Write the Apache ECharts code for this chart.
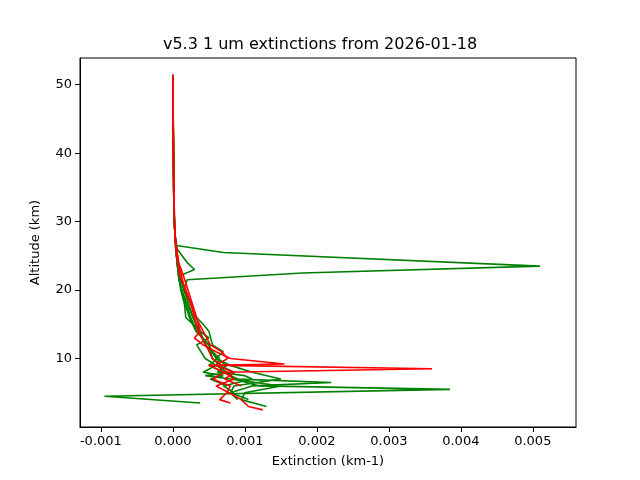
<!DOCTYPE html>
<html><head><meta charset="utf-8">
<script src="https://cdn.jsdelivr.net/npm/echarts@6/dist/echarts.min.js"></script>
<style>body{margin:0}#c{width:640px;height:480px}</style></head>
<body><div id="c"></div>
<script>
// altitude (km) and extinction in units of 1e-3 km-1
var altG1 = [51.5,45,40,35,30,28,26.5,25.5,23.5,22.5,21.5,20,18,16,14,12,11,10,9,8,7,6,5.5,4.5,3.5];
var extG1 = [0,0.005,0.01,0.01,0.02,0.03,0.05,0.7,5.1,1.8,0.2,0.15,0.22,0.28,0.36,0.45,0.55,0.65,0.6,0.75,0.85,1.2,3.85,-0.95,0.38];
var altG2 = [51,45,40,35,30,28,26,24,23,22,20,18,16,14,12,10,9,8,7.5,7,6,5,4,3];
var extG2 = [0,0.004,0.008,0.01,0.02,0.03,0.06,0.2,0.3,0.08,0.12,0.18,0.25,0.33,0.5,0.55,0.65,0.85,0.45,0.8,1.5,1.0,0.95,1.3];
var altG3 = [50,44,38,32,28,26,24,22,20,18,16,14,12,10,9,8,7,6.5,6,5,4];
var extG3 = [0,0.005,0.008,0.015,0.03,0.04,0.06,0.08,0.11,0.16,0.18,0.38,0.45,0.62,0.5,0.7,0.9,2.2,1.1,0.8,0.9];
var altG4 = [50,42,34,28,25,22,20,18,16,14,12,10,9,8,7,6,5,4];
var extG4 = [0,0.005,0.015,0.03,0.05,0.08,0.12,0.17,0.23,0.32,0.5,0.6,0.8,1.1,1.5,0.85,0.8,1.05];
var altG5 = [49,40,32,28,24,22,20,18,16,14,13,12,10,9,8,7.5,7,6];
var extG5 = [0,0.01,0.015,0.03,0.06,0.08,0.12,0.2,0.28,0.38,0.5,0.33,0.45,0.6,0.42,0.7,0.52,0.75];
var altG6 = [48,40,30,26,23,20,18,16,15,14,12,11,10,9,8,7.5,7,6,5];
var extG6 = [0,0.008,0.02,0.04,0.07,0.15,0.25,0.33,0.42,0.5,0.55,0.7,0.6,0.75,0.62,1.0,1.1,0.7,0.85];
var altR1 = [51.5,45,40,35,30,28,26,24,22,20,18,16,14,13,12,11,10,9.2,9,8,7,6,5,4,3.5];
var extR1 = [0,0.004,0.008,0.01,0.02,0.03,0.05,0.08,0.15,0.21,0.27,0.33,0.38,0.3,0.42,0.6,0.8,1.55,0.5,0.72,0.55,0.8,0.75,0.65,0.8];
var altR2 = [51,44,36,30,27,24,22,20,18,16,14,12,10,9,8.5,8,7,6,5,4,3,2.5];
var extR2 = [0,0.005,0.01,0.02,0.04,0.08,0.12,0.17,0.25,0.3,0.35,0.46,0.55,0.68,3.6,0.72,0.85,0.6,0.78,0.95,1.05,1.25];
var altR3 = [50,40,30,26,22,20,18,16,14,12,11,10,9,8,7,6];
var extR3 = [0,0.01,0.02,0.04,0.1,0.18,0.25,0.32,0.42,0.52,0.68,0.76,0.6,0.85,0.72,0.95];
var xTicks = [-0.001,0,0.001,0.002,0.003,0.004,0.005];

var profiles = [
  [altG1,extG1,'green'],[altG2,extG2,'green'],[altG3,extG3,'green'],
  [altG4,extG4,'green'],[altG5,extG5,'green'],[altG6,extG6,'green'],
  [altR1,extR1,'red'],[altR2,extR2,'red'],[altR3,extR3,'red']
];
var series = profiles.map(function(p){
  return {type:'line', showSymbol:false, animation:false,
    data: p[0].map(function(a,i){return [p[1][i]/1000, a];}),
    lineStyle:{color:p[2], width:1.6}, itemStyle:{color:p[2]}};
});
var ax = {color:'#000', fontSize:13, fontFamily:'DejaVu Sans'};
var chart = echarts.init(document.getElementById('c'));
chart.setOption({
  backgroundColor:'#fff',
  title:{text:'v5.3 1 um extinctions from 2026-01-18', left:'center', top:32,
    textStyle:{fontSize:16, fontWeight:'normal', color:'#000', fontFamily:'DejaVu Sans'}},
  grid:{left:80, right:64, top:58, bottom:53, show:true, borderColor:'#000', borderWidth:1},
  xAxis:{type:'value', min:-0.00129, max:0.0056,
    name:'Extinction (km-1)', nameLocation:'middle', nameGap:28, nameTextStyle:ax,
    axisLine:{onZero:false, lineStyle:{color:'#000'}},
    axisTick:{customValues:xTicks, lineStyle:{color:'#000'}},
    splitLine:{show:false},
    axisLabel:Object.assign({customValues:xTicks, formatter:function(v){return v.toFixed(3);}}, ax)},
  yAxis:{type:'value', min:0, max:53.9, interval:10,
    name:'Altitude (km)', nameLocation:'middle', nameGap:38, nameTextStyle:ax,
    axisLine:{show:true, onZero:false, lineStyle:{color:'#000'}}, axisTick:{show:true, lineStyle:{color:'#000'}},
    splitLine:{show:false},
    axisLabel:Object.assign({showMinLabel:false, showMaxLabel:false}, ax)},
  series: series
});
</script></body></html>
